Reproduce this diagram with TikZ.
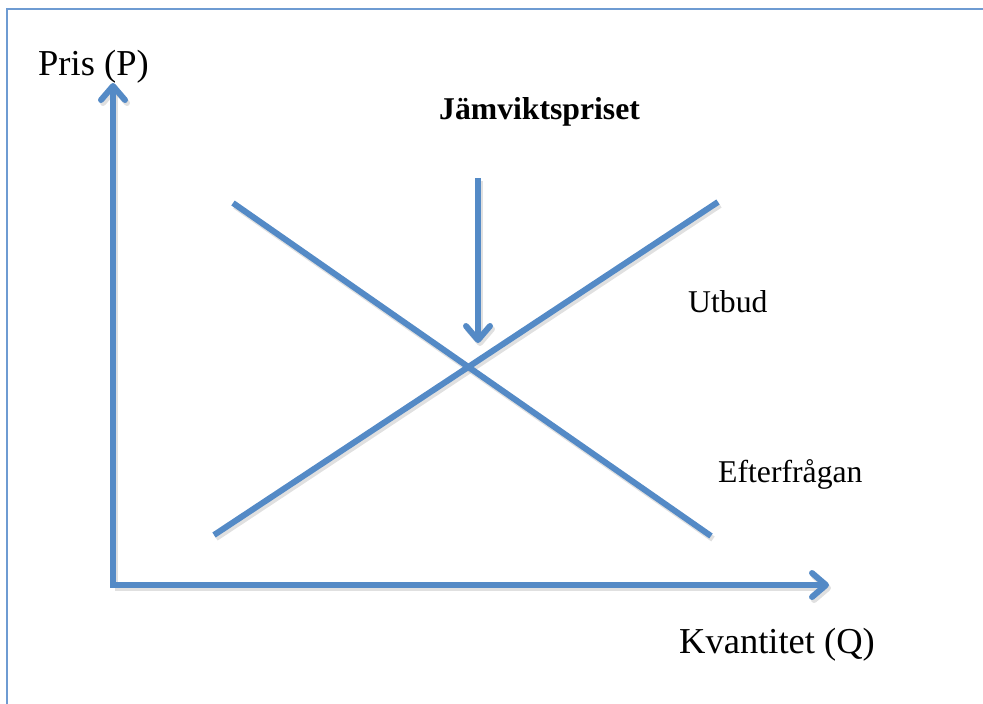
\documentclass[tikz,border=0pt]{standalone}
\usepackage{fontspec}
\setmainfont{Liberation Serif}
\usetikzlibrary{arrows.meta}
\definecolor{lineblue}{RGB}{84,138,198}
\definecolor{frameblue}{RGB}{110,155,210}
\begin{document}
\begin{tikzpicture}[x=1pt,y=-1pt,
  curve/.style={draw=lineblue, line width=6pt},
  shadowline/.style={draw=black!35, line width=6pt, opacity=0.35, transform canvas={shift={(2pt,-3pt)}}},
  tipped/.style={-{Straight Barb[length=14pt,width=24pt,round]}},
  bigtext/.style={inner sep=0pt, anchor=base west, font=\fontsize{36.5}{40}\selectfont},
  smalltext/.style={inner sep=0pt, anchor=base west, font=\fontsize{31.7}{36}\selectfont}]
\useasboundingbox (0,0) rectangle (983,704);
% frame
\draw[frameblue, line width=2pt] (983,9) -- (7,9) -- (7,704);
% coordinates
\coordinate (O) at (113,585);
\coordinate (ytip) at (113,83);
\coordinate (xtip) at (829,585);
\coordinate (d1) at (233,203);
\coordinate (d2) at (711,536);
\coordinate (s1) at (214,535);
\coordinate (s2) at (718,202);
\coordinate (a1) at (478,178);
\coordinate (a2) at (478,343);
% shadows
\draw[shadowline] (d1) -- (d2);
\draw[shadowline] (s1) -- (s2);
\draw[shadowline, tipped] (a1) -- (a2);
\draw[shadowline, tipped] (O) -- (ytip);
\draw[shadowline, tipped] (O) -- (xtip);
% lines
\draw[curve] (d1) -- (d2);
\draw[curve] (s1) -- (s2);
\draw[curve, tipped] (a1) -- (a2);
\draw[curve, tipped] ([yshift=3pt]O) -- (ytip);
\draw[curve, tipped] ([xshift=-3pt]O) -- (xtip);
% labels
\node[bigtext] (pris) at (38,75) {Pris (P)};
\node[bigtext] (kvant) at (679,653) {Kvantitet (Q)};
\node[smalltext, font=\fontsize{31.7}{36}\selectfont\bfseries] (jam) at (439,119) {Jämviktspriset};
\node[smalltext] (utbud) at (688,312) {Utbud};
\node[smalltext] (efter) at (718,482) {Efterfrågan};
\end{tikzpicture}
\end{document}
